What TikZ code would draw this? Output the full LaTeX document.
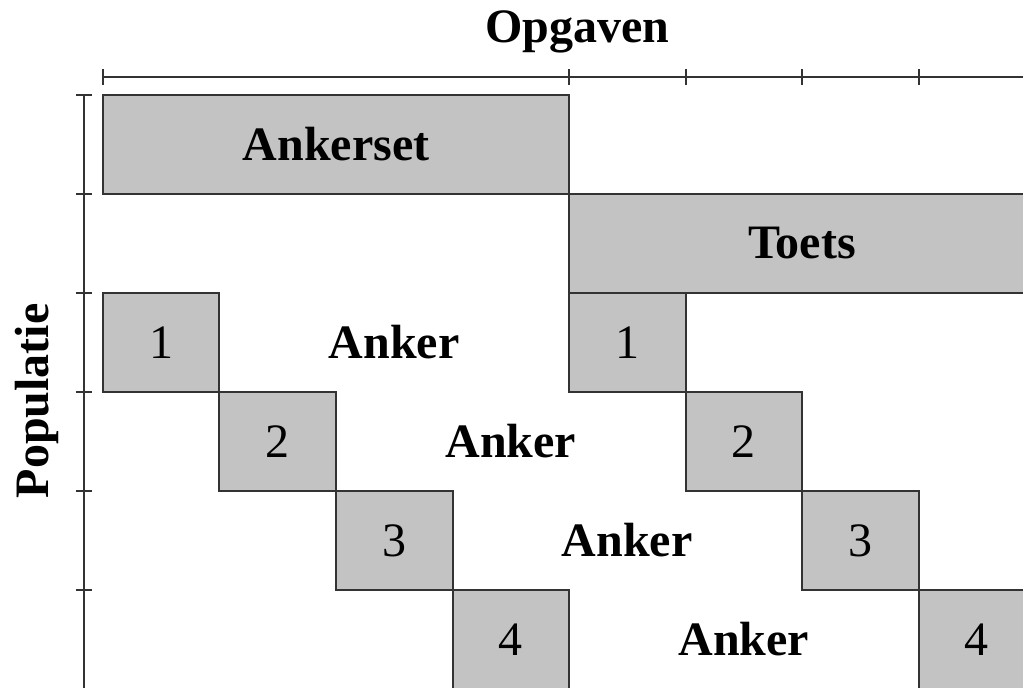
\documentclass[tikz,border=0pt]{standalone}
\usepackage{fontspec}
\setmainfont{Liberation Serif}
\definecolor{cellgray}{HTML}{C3C3C3}
\definecolor{linegray}{HTML}{333333}
\tikzset{
  cell/.style={draw=linegray, fill=cellgray, line width=1pt},
  axis/.style={draw=linegray, line width=1pt},
  lbl/.style={font=\fontsize{24}{29}\selectfont\bfseries},
  num/.style={font=\fontsize{24}{29}\selectfont},
}
\begin{document}
\begin{tikzpicture}[x=58.25pt,y=-49.5pt]
\useasboundingbox (-0.8841,-0.9596) rectangle (7.8970,5.9798);
\clip (-0.8841,-0.9596) rectangle (7.8970,5.9798);
% axes
\coordinate (xstart) at (0,-0.182);
\coordinate (xend) at (8.2,-0.182);
\coordinate (ystart) at (-0.163,0);
\coordinate (yend) at (-0.163,6.2);
\draw[axis] (xstart) -- (xend);
\draw[axis] (ystart) -- (yend);
\foreach \x in {0,4,5,6,7}
  \draw[axis] (\x,-0.262) -- (\x,-0.102);
\foreach \y in {0,...,5}
  \draw[axis] (-0.232,\y) -- (-0.094,\y);
\node[lbl, anchor=base] (opgaven) at (4.07,-0.535) {Opgaven};
\node[lbl, anchor=base, rotate=90] (populatie) at (-0.472,3.09) {Populatie};
% ankerset en toets
\draw[cell] (0,0) rectangle (4,1);
\node[lbl] (ankerset) at (2,0.5) {Ankerset};
\draw[cell] (4,1) rectangle (8.5,2);
\node[lbl] (toets) at (6,1.5) {Toets};
% blokken
\foreach \i in {1,...,4} {
  \draw[cell] (\i-1,\i+1) rectangle (\i,\i+2);
  \node[num] (left\i) at (\i-0.5,\i+1.5) {\i};
  \draw[cell] (\i+3,\i+1) rectangle (\i+4,\i+2);
  \node[num] (right\i) at (\i+3.5,\i+1.5) {\i};
  \node[lbl] (anker\i) at (\i+1.5,\i+1.5) {Anker};
}
\end{tikzpicture}
\end{document}
